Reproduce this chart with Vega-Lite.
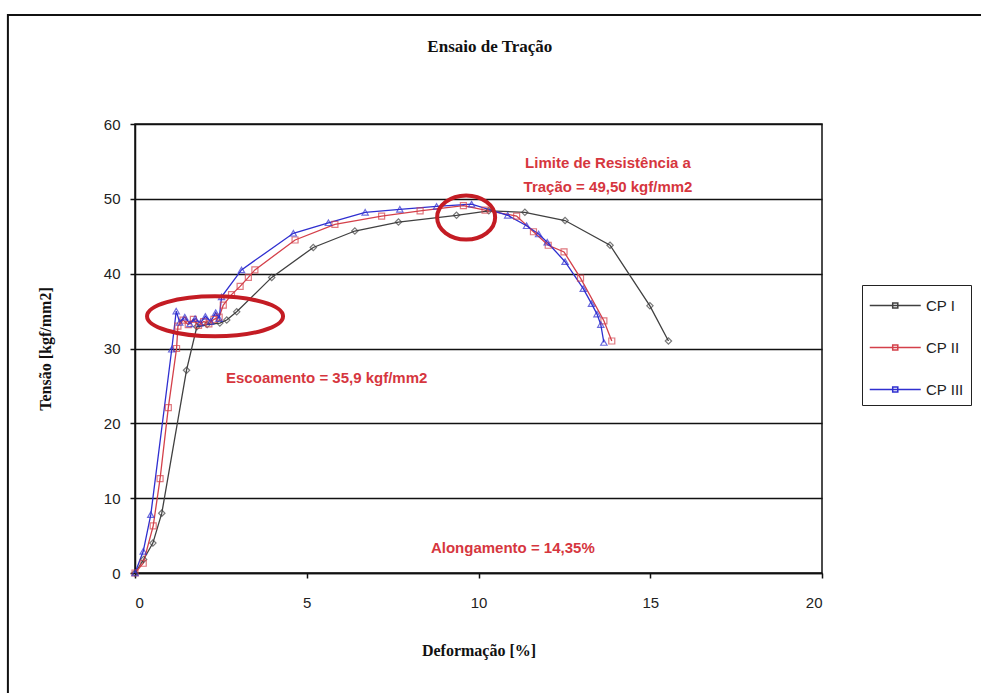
{
  "$schema": "https://vega.github.io/schema/vega-lite/v6.json",
  "autosize": {"type": "none"},
  "width": 687,
  "height": 449,
  "padding": {"left": 135, "top": 124, "right": 159, "bottom": 120},
  "background": "white",
  "datasets": {
    "curves": [
      {"serie": "CP I", "x": 0, "y": 0},
      {"serie": "CP I", "x": 0.25, "y": 1.8},
      {"serie": "CP I", "x": 0.52, "y": 4.0},
      {"serie": "CP I", "x": 0.78, "y": 8.0},
      {"serie": "CP I", "x": 1.5, "y": 27.1},
      {"serie": "CP I", "x": 1.8, "y": 32.9},
      {"serie": "CP I", "x": 2.1, "y": 33.2},
      {"serie": "CP I", "x": 2.47, "y": 33.4},
      {"serie": "CP I", "x": 2.67, "y": 33.8},
      {"serie": "CP I", "x": 2.96, "y": 34.9},
      {"serie": "CP I", "x": 3.98, "y": 39.5},
      {"serie": "CP I", "x": 5.19, "y": 43.5},
      {"serie": "CP I", "x": 6.4, "y": 45.7},
      {"serie": "CP I", "x": 7.67, "y": 46.9},
      {"serie": "CP I", "x": 9.36, "y": 47.8},
      {"serie": "CP I", "x": 10.3, "y": 48.4},
      {"serie": "CP I", "x": 11.35, "y": 48.2},
      {"serie": "CP I", "x": 12.52, "y": 47.1},
      {"serie": "CP I", "x": 13.83, "y": 43.8},
      {"serie": "CP I", "x": 14.99, "y": 35.7},
      {"serie": "CP I", "x": 15.53, "y": 31.0},
      {"serie": "CP II", "x": 0, "y": 0},
      {"serie": "CP II", "x": 0.24, "y": 1.3},
      {"serie": "CP II", "x": 0.53, "y": 6.3},
      {"serie": "CP II", "x": 0.73, "y": 12.6},
      {"serie": "CP II", "x": 0.97, "y": 22.1},
      {"serie": "CP II", "x": 1.21, "y": 30.0},
      {"serie": "CP II", "x": 1.25, "y": 33.0},
      {"serie": "CP II", "x": 1.4, "y": 33.8},
      {"serie": "CP II", "x": 1.55, "y": 33.2},
      {"serie": "CP II", "x": 1.7, "y": 33.9},
      {"serie": "CP II", "x": 1.85, "y": 33.1},
      {"serie": "CP II", "x": 2.0, "y": 33.6},
      {"serie": "CP II", "x": 2.15, "y": 33.3},
      {"serie": "CP II", "x": 2.3, "y": 33.9},
      {"serie": "CP II", "x": 2.45, "y": 34.2},
      {"serie": "CP II", "x": 2.57, "y": 35.8},
      {"serie": "CP II", "x": 2.81, "y": 37.2},
      {"serie": "CP II", "x": 3.06, "y": 38.3},
      {"serie": "CP II", "x": 3.3, "y": 39.5},
      {"serie": "CP II", "x": 3.49, "y": 40.5},
      {"serie": "CP II", "x": 4.66, "y": 44.5},
      {"serie": "CP II", "x": 5.82, "y": 46.6},
      {"serie": "CP II", "x": 7.18, "y": 47.7},
      {"serie": "CP II", "x": 8.3, "y": 48.4},
      {"serie": "CP II", "x": 9.56, "y": 49.1},
      {"serie": "CP II", "x": 10.19, "y": 48.5},
      {"serie": "CP II", "x": 11.11, "y": 47.7},
      {"serie": "CP II", "x": 11.6, "y": 45.6},
      {"serie": "CP II", "x": 12.03, "y": 43.8},
      {"serie": "CP II", "x": 12.49, "y": 42.9},
      {"serie": "CP II", "x": 12.97, "y": 39.4},
      {"serie": "CP II", "x": 13.65, "y": 33.7},
      {"serie": "CP II", "x": 13.88, "y": 31.0},
      {"serie": "CP III", "x": 0, "y": 0},
      {"serie": "CP III", "x": 0.24, "y": 2.9},
      {"serie": "CP III", "x": 0.46, "y": 7.8},
      {"serie": "CP III", "x": 1.07, "y": 29.9},
      {"serie": "CP III", "x": 1.2, "y": 35.0},
      {"serie": "CP III", "x": 1.3, "y": 33.5},
      {"serie": "CP III", "x": 1.45, "y": 34.2},
      {"serie": "CP III", "x": 1.6, "y": 33.3},
      {"serie": "CP III", "x": 1.75, "y": 34.0},
      {"serie": "CP III", "x": 1.9, "y": 33.4},
      {"serie": "CP III", "x": 2.05, "y": 34.3},
      {"serie": "CP III", "x": 2.2, "y": 33.6},
      {"serie": "CP III", "x": 2.35, "y": 34.8},
      {"serie": "CP III", "x": 2.45, "y": 34.0},
      {"serie": "CP III", "x": 2.52, "y": 36.9},
      {"serie": "CP III", "x": 3.1, "y": 40.5},
      {"serie": "CP III", "x": 4.61, "y": 45.4},
      {"serie": "CP III", "x": 5.63, "y": 46.8},
      {"serie": "CP III", "x": 6.7, "y": 48.2},
      {"serie": "CP III", "x": 7.71, "y": 48.6},
      {"serie": "CP III", "x": 8.78, "y": 49.0},
      {"serie": "CP III", "x": 9.8, "y": 49.3},
      {"serie": "CP III", "x": 10.85, "y": 47.8},
      {"serie": "CP III", "x": 11.4, "y": 46.4},
      {"serie": "CP III", "x": 11.75, "y": 45.3},
      {"serie": "CP III", "x": 12.0, "y": 44.2},
      {"serie": "CP III", "x": 12.52, "y": 41.6},
      {"serie": "CP III", "x": 13.05, "y": 38.0},
      {"serie": "CP III", "x": 13.29, "y": 36.0},
      {"serie": "CP III", "x": 13.45, "y": 34.6},
      {"serie": "CP III", "x": 13.56, "y": 33.2},
      {"serie": "CP III", "x": 13.65, "y": 30.8}
    ]
  },
  "layer": [
    {
      "data": {"values": [{}]},
      "mark": {"type": "rect", "filled": false, "stroke": "#111", "strokeWidth": 2, "clip": false},
      "encoding": {
        "x": {"datum": -3.7, "type": "quantitative"},
        "x2": {"datum": 30},
        "y": {"datum": 74.57, "type": "quantitative"},
        "y2": {"datum": -30}
      }
    },
    {
      "data": {"name": "curves"},
      "mark": {"type": "line", "strokeWidth": 1.3},
      "encoding": {
        "x": {
          "field": "x", "type": "quantitative",
          "scale": {"domain": [0, 20], "nice": false, "zero": false},
          "axis": {
            "title": "Deformação [%]",
            "values": [0, 5, 10, 15, 20],
            "grid": false,
            "domainColor": "#111", "domainWidth": 1.5,
            "tickColor": "#111", "tickSize": 5, "tickWidth": 1.5,
            "labelFont": "Liberation Sans", "labelFontSize": 15, "labelColor": "#222",
            "labelPadding": 17,
            "titleFont": "Liberation Serif", "titleFontSize": 16, "titleFontWeight": "bold", "titleColor": "#111",
            "titlePadding": 32
          }
        },
        "y": {
          "field": "y", "type": "quantitative",
          "scale": {"domain": [0, 60], "nice": false},
          "axis": {
            "title": "Tensão [kgf/mm2]",
            "values": [0, 10, 20, 30, 40, 50, 60],
            "grid": true, "gridColor": "#111", "gridWidth": 1.6,
            "domainColor": "#111", "domainWidth": 1.5,
            "tickColor": "#111", "tickSize": 5, "tickWidth": 1.5,
            "labelFont": "Liberation Sans", "labelFontSize": 15, "labelColor": "#222",
            "labelPadding": 10,
            "titleFont": "Liberation Serif", "titleFontSize": 16, "titleFontWeight": "bold", "titleColor": "#111",
            "titlePadding": 50
          }
        },
        "color": {
          "field": "serie", "type": "nominal",
          "scale": {"domain": ["CP I", "CP II", "CP III"], "range": ["#404040", "#d4404a", "#2f2fd0"]},
          "legend": {
            "title": null,
            "orient": "none",
            "legendX": 727,
            "legendY": 161,
            "strokeColor": "#222",
            "fillColor": "white",
            "padding": 7,
            "symbolType": "M-1,0H3M0.8,-0.2H1.2V0.2H0.8Z",
            "symbolSize": 650,
            "symbolStrokeWidth": 1.5,
            "labelFont": "Liberation Sans",
            "labelFontSize": 15,
            "labelColor": "#222",
            "labelOffset": 30,
            "rowPadding": 20,
            "labelExpr": "datum.label + '\u00a0\u00a0\u00a0\u00a0\u00a0\u00a0\u00a0\u00a0\u00a0\u00a0'"
          }
        },
        "order": {"field": "x", "type": "quantitative"}
      }
    },
    {
      "data": {"name": "curves"},
      "transform": [{"filter": "datum.serie == 'CP I'"}],
      "mark": {"type": "point", "shape": "diamond", "filled": false, "stroke": "#404040", "strokeWidth": 1.2, "size": 40},
      "encoding": {
        "x": {"field": "x", "type": "quantitative"},
        "y": {"field": "y", "type": "quantitative"}
      }
    },
    {
      "data": {"name": "curves"},
      "transform": [{"filter": "datum.serie == 'CP II'"}],
      "mark": {"type": "point", "shape": "square", "filled": false, "stroke": "#d4404a", "strokeWidth": 1.2, "size": 36},
      "encoding": {
        "x": {"field": "x", "type": "quantitative"},
        "y": {"field": "y", "type": "quantitative"}
      }
    },
    {
      "data": {"name": "curves"},
      "transform": [{"filter": "datum.serie == 'CP III'"}],
      "mark": {"type": "point", "shape": "triangle-up", "filled": false, "stroke": "#2f2fd0", "strokeWidth": 1.2, "size": 40},
      "encoding": {
        "x": {"field": "x", "type": "quantitative"},
        "y": {"field": "y", "type": "quantitative"}
      }
    },
    {
      "data": {"values": [{}]},
      "mark": {"type": "point", "shape": "M-1,0A1,0.294,0,1,0,1,0A1,0.294,0,1,0,-1,0Z", "size": 18496, "filled": false, "stroke": "#c41c24", "strokeWidth": 4, "opacity": 1},
      "encoding": {
        "x": {"datum": 2.33, "type": "quantitative"},
        "y": {"datum": 34.3, "type": "quantitative"}
      }
    },
    {
      "data": {"values": [{}]},
      "mark": {"type": "point", "shape": "M-1,0A1,0.76,0,1,0,1,0A1,0.76,0,1,0,-1,0Z", "size": 3364, "filled": false, "stroke": "#c41c24", "strokeWidth": 4, "opacity": 1},
      "encoding": {
        "x": {"datum": 9.64, "type": "quantitative"},
        "y": {"datum": 47.5, "type": "quantitative"}
      }
    },
    {
      "data": {"values": [{}]},
      "mark": {"type": "text", "align": "center", "baseline": "middle", "font": "Liberation Sans", "fontSize": 15, "fontWeight": "bold", "color": "#d6363e", "lineHeight": 24},
      "encoding": {
        "x": {"datum": 13.77, "type": "quantitative"},
        "y": {"datum": 54.8, "type": "quantitative"},
        "text": {"value": ["Limite de Resistência a", "Tração = 49,50 kgf/mm2"]}
      }
    },
    {
      "data": {"values": [{}]},
      "mark": {"type": "text", "align": "left", "baseline": "middle", "font": "Liberation Sans", "fontSize": 15, "fontWeight": "bold", "color": "#d6363e"},
      "encoding": {
        "x": {"datum": 2.65, "type": "quantitative"},
        "y": {"datum": 26.1, "type": "quantitative"},
        "text": {"value": "Escoamento = 35,9 kgf/mm2"}
      }
    },
    {
      "data": {"values": [{}]},
      "mark": {"type": "text", "align": "center", "baseline": "middle", "font": "Liberation Sans", "fontSize": 15, "fontWeight": "bold", "color": "#d6363e"},
      "encoding": {
        "x": {"datum": 11.0, "type": "quantitative"},
        "y": {"datum": 3.34, "type": "quantitative"},
        "text": {"value": "Alongamento = 14,35%"}
      }
    },
    {
      "data": {"values": [{}]},
      "mark": {"type": "text", "align": "center", "baseline": "middle", "font": "Liberation Serif", "fontSize": 17, "fontWeight": "bold", "color": "#111", "clip": false},
      "encoding": {
        "x": {"datum": 10.33, "type": "quantitative"},
        "y": {"datum": 70.3, "type": "quantitative"},
        "text": {"value": "Ensaio de Tração"}
      }
    }
  ],
  "config": {
    "view": {"stroke": "#111", "strokeWidth": 1.5}
  }
}
